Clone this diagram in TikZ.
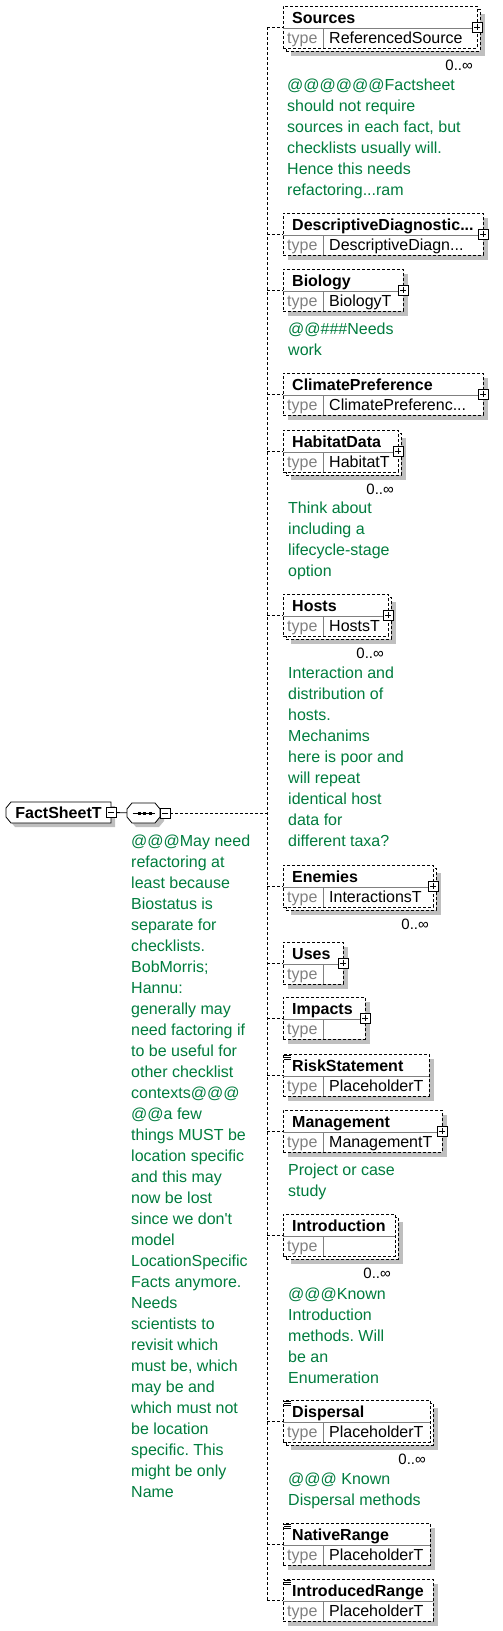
\documentclass[tikz,border=0pt]{standalone}
\usepackage{fontspec}
\setmainfont{Liberation Sans}
\usepackage{tikz}
\usetikzlibrary{shadows}
\usetikzlibrary{calc}
\frenchspacing
\pgfdeclarelayer{nodelayer}
\pgfdeclarelayer{edgelayer}
\pgfsetlayers{edgelayer,nodelayer,main}
\definecolor{notegreen}{RGB}{0,124,62}
\definecolor{rulegray}{RGB}{128,128,128}
\newcommand{\boxfont}{\fontsize{16}{21}\selectfont}
\tikzset{elem/.style={draw, fill=white, rectangle, anchor=north west, inner sep=0pt, outer sep=0pt, minimum height=42pt, line width=.8pt, dash pattern=on 3pt off 2pt}}
\tikzset{one/.style={drop shadow={shadow xshift=5pt, shadow yshift=-5pt, fill=black!25, opacity=1}}}
\tikzset{many/.style={drop shadow={shadow xshift=8pt, shadow yshift=-8pt, fill=black!25, opacity=1},
copy shadow={shadow xshift=3pt, shadow yshift=-3pt, draw=black, fill=white, line width=.8pt, dash pattern=on 3pt off 2pt}}}
\tikzset{rowline/.style={draw=rulegray, line width=.8pt}}
\tikzset{ename/.style={anchor=base west, inner sep=0pt, font=\boxfont\bfseries}}
\tikzset{tlab/.style={anchor=base west, inner sep=0pt, text=rulegray, font=\boxfont}}
\tikzset{tval/.style={anchor=base west, inner sep=0pt, font=\boxfont}}
\tikzset{note/.style={anchor=north west, inner sep=0pt, align=left, text=notegreen, font=\boxfont}}
\tikzset{occ/.style={anchor=base east, inner sep=0pt, font=\fontsize{15}{18}\selectfont}}
\tikzset{conn/.style={line width=.8pt, dash pattern=on 3pt off 2pt}}
\tikzset{plus/.style={draw, solid, fill=white, line width=.8pt, minimum size=10pt, inner sep=0pt, append after command={
[shorten >=2pt, shorten <=2pt, line width=.8pt]
(\tikzlastnode.north) edge (\tikzlastnode.south)
(\tikzlastnode.east) edge (\tikzlastnode.west)
} } }
\tikzset{minus/.style={draw, solid, fill=white, line width=.8pt, minimum size=10pt, inner sep=0pt, append after command={
[shorten >=2pt, shorten <=2pt, line width=.8pt]
(\tikzlastnode.east) edge (\tikzlastnode.west)
} } }
\tikzset{simp/.style={minimum width=6pt, minimum height=4pt, inner sep=0pt, append after command={
[line width=.6pt]
(\tikzlastnode.north west) edge (\tikzlastnode.north east)
(\tikzlastnode.west) edge (\tikzlastnode.east)
(\tikzlastnode.south west) edge (\tikzlastnode.south east)
} } }
\tikzset{frame/.style={rectangle, inner sep=0pt, outer sep=0pt}}
\tikzset{outline/.style={draw, fill=white, line width=.8pt, drop shadow={shadow xshift=4pt, shadow yshift=-4pt, fill=black!25, opacity=1}}}
\tikzset{rootlbl/.style={inner sep=0pt, font=\boxfont\bfseries}}
\tikzset{dot/.style={fill=black, rectangle, minimum size=3pt, inner sep=0pt}}
% element box: [kind]{name}{top}{right}{title}{type}
\newcommand{\elembox}[6][one]{%
\node [style=elem, #1, minimum width={#4pt-283pt}] (#2) at (283,#3) {};
\draw [style=rowline] (283,#3+22) -- (#4,#3+22);
\draw [style=rowline] (323,#3+22) -- (323,#3+42);
\node [style=ename] (#2-n) at (292,#3+17) {#5};
\node [style=tlab] (#2-l) at (287,#3+37) {type};
\node [style=tval] (#2-t) at (329,#3+37) {#6};
}
\begin{document}
\begin{tikzpicture}[x=1pt, y=-1pt]
	\useasboundingbox (0,0) rectangle (503,1631);
	\begin{pgfonlayer}{nodelayer}
		% root element and its sequence
		\node [style=frame, minimum width=105pt, minimum height=21pt] (fst) at (58.5,812.5) {};
		\filldraw [style=outline] ([xshift=5pt]fst.north west) -- (fst.north east) -- (fst.south east) -- ([xshift=5pt]fst.south west)
			-- ([yshift=6pt]fst.south west) -- ([yshift=-6pt]fst.north west) -- cycle;
		\node [style=rootlbl] (fst-l) at (fst.center) {FactSheetT};
		\node [style=minus] (fst-m) at (fst.east) {};
		\node [style=frame, minimum width=33pt, minimum height=20pt] (seq) at (143.5,813) {};
		\filldraw [style=outline] ([xshift=5pt]seq.north west) -- ([xshift=-5pt]seq.north east) -- ([yshift=-6pt]seq.north east)
			-- ([yshift=6pt]seq.south east) -- ([xshift=-5pt]seq.south east) -- ([xshift=5pt]seq.south west)
			-- ([yshift=6pt]seq.south west) -- ([yshift=-6pt]seq.north west) -- cycle;
		\draw [line width=.8pt] ([xshift=-11pt]seq.center) -- ([xshift=11pt]seq.center);
		\node [style=dot] (d1) at (139,813) {};
		\node [style=dot] (d2) at (144.5,813) {};
		\node [style=dot] (d3) at (150,813) {};
		\node [style=minus] (seq-m) at ([xshift=5pt]seq.east) {};
		\node [style=note] (fst-c) at (131,835) {@@@May need\\refactoring at\\least because\\Biostatus is\\separate for\\checklists.\\BobMorris;\\Hannu:\\generally may\\need factoring if\\to be useful for\\other checklist\\contexts@@@\\@@a few\\things MUST be\\location specific\\and this may\\now be lost\\since we don\textquotesingle t\\model\\LocationSpecific\\Facts anymore.\\Needs\\scientists to\\revisit which\\must be, which\\may be and\\which must not\\be location\\specific. This\\might be only\\Name};

		\elembox[many]{src}{6}{477}{Sources}{ReferencedSource}
		\node [style=plus] (src-p) at (src.east) {};
		\node [style=occ] (src-o) at ([shift={(-4,64)}]src.north east) {0..∞};
		\node [style=note] (src-c) at (287,79) {@@@@@@Factsheet\\should not require\\sources in each fact, but\\checklists usually will.\\Hence this needs\\refactoring...ram};

		\elembox{ddiag}{213}{483}{DescriptiveDiagnostic...}{DescriptiveDiagn...}
		\node [style=plus] (ddiag-p) at (ddiag.east) {};

		\elembox{bio}{269}{403}{Biology}{BiologyT}
		\node [style=plus] (bio-p) at (bio.east) {};
		\node [style=note] (bio-c) at (288,323) {@@\#\#\#Needs\\work};

		\elembox{clim}{373}{483}{ClimatePreference}{ClimatePreferenc...}
		\node [style=plus] (clim-p) at (clim.east) {};

		\elembox[many]{hab}{430}{398}{HabitatData}{HabitatT}
		\node [style=plus] (hab-p) at (hab.east) {};
		\node [style=occ] (hab-o) at ([shift={(-4,64)}]hab.north east) {0..∞};
		\node [style=note] (hab-c) at (288,502) {Think about\\including a\\lifecycle-stage\\option};

		\elembox[many]{host}{594}{388}{Hosts}{HostsT}
		\node [style=plus] (host-p) at (host.east) {};
		\node [style=occ] (host-o) at ([shift={(-4,64)}]host.north east) {0..∞};
		\node [style=note] (host-c) at (288,667) {Interaction and\\distribution of\\hosts.\\Mechanims\\here is poor and\\will repeat\\identical host\\data for\\different taxa?};

		\elembox[many]{enem}{865}{433}{Enemies}{InteractionsT}
		\node [style=plus] (enem-p) at (enem.east) {};
		\node [style=occ] (enem-o) at ([shift={(-4,64)}]enem.north east) {0..∞};

		\elembox{uses}{942}{343}{Uses}{}
		\node [style=plus] (uses-p) at (uses.east) {};

		\elembox{imp}{997}{365}{Impacts}{}
		\node [style=plus] (imp-p) at (imp.east) {};

		\elembox{risk}{1054}{429}{RiskStatement}{PlaceholderT}
		\node [style=simp] (risk-s) at ([shift={(4.5,3)}]risk.north west) {};

		\elembox{mgmt}{1110}{442}{Management}{ManagementT}
		\node [style=plus] (mgmt-p) at (mgmt.east) {};
		\node [style=note] (mgmt-c) at (288,1164) {Project or case\\study};

		\elembox[many]{intro}{1214}{395}{Introduction}{}
		\node [style=occ] (intro-o) at ([shift={(-4,64)}]intro.north east) {0..∞};
		\node [style=note] (intro-c) at (288,1288) {@@@Known\\Introduction\\methods. Will\\be an\\Enumeration};

		\elembox[many]{disp}{1400}{430}{Dispersal}{PlaceholderT}
		\node [style=simp] (disp-s) at ([shift={(4.5,3)}]disp.north west) {};
		\node [style=occ] (disp-o) at ([shift={(-4,64)}]disp.north east) {0..∞};
		\node [style=note] (disp-c) at (288,1473) {@@@ Known\\Dispersal methods};

		\elembox{nrng}{1523}{430}{NativeRange}{PlaceholderT}
		\node [style=simp] (nrng-s) at ([shift={(4.5,3)}]nrng.north west) {};

		\elembox{irng}{1579}{433}{IntroducedRange}{PlaceholderT}
		\node [style=simp] (irng-s) at ([shift={(4.5,3)}]irng.north west) {};
	\end{pgfonlayer}
	\begin{pgfonlayer}{edgelayer}
		\coordinate (spine) at (267,0);
		\draw [line width=.8pt] (fst-m) to (seq);
		\draw [style=conn] (seq-m) to (spine |- seq-m);
		\draw [style=conn] (spine |- src.west) to (spine |- irng.west);
		\draw [style=conn] (spine |- src.west) to (src.west);
		\draw [style=conn] (spine |- ddiag.west) to (ddiag.west);
		\draw [style=conn] (spine |- bio.west) to (bio.west);
		\draw [style=conn] (spine |- clim.west) to (clim.west);
		\draw [style=conn] (spine |- hab.west) to (hab.west);
		\draw [style=conn] (spine |- host.west) to (host.west);
		\draw [style=conn] (spine |- enem.west) to (enem.west);
		\draw [style=conn] (spine |- uses.west) to (uses.west);
		\draw [style=conn] (spine |- imp.west) to (imp.west);
		\draw [style=conn] (spine |- risk.west) to (risk.west);
		\draw [style=conn] (spine |- mgmt.west) to (mgmt.west);
		\draw [style=conn] (spine |- intro.west) to (intro.west);
		\draw [style=conn] (spine |- disp.west) to (disp.west);
		\draw [style=conn] (spine |- nrng.west) to (nrng.west);
		\draw [style=conn] (spine |- irng.west) to (irng.west);
	\end{pgfonlayer}
\end{tikzpicture}
\end{document}
